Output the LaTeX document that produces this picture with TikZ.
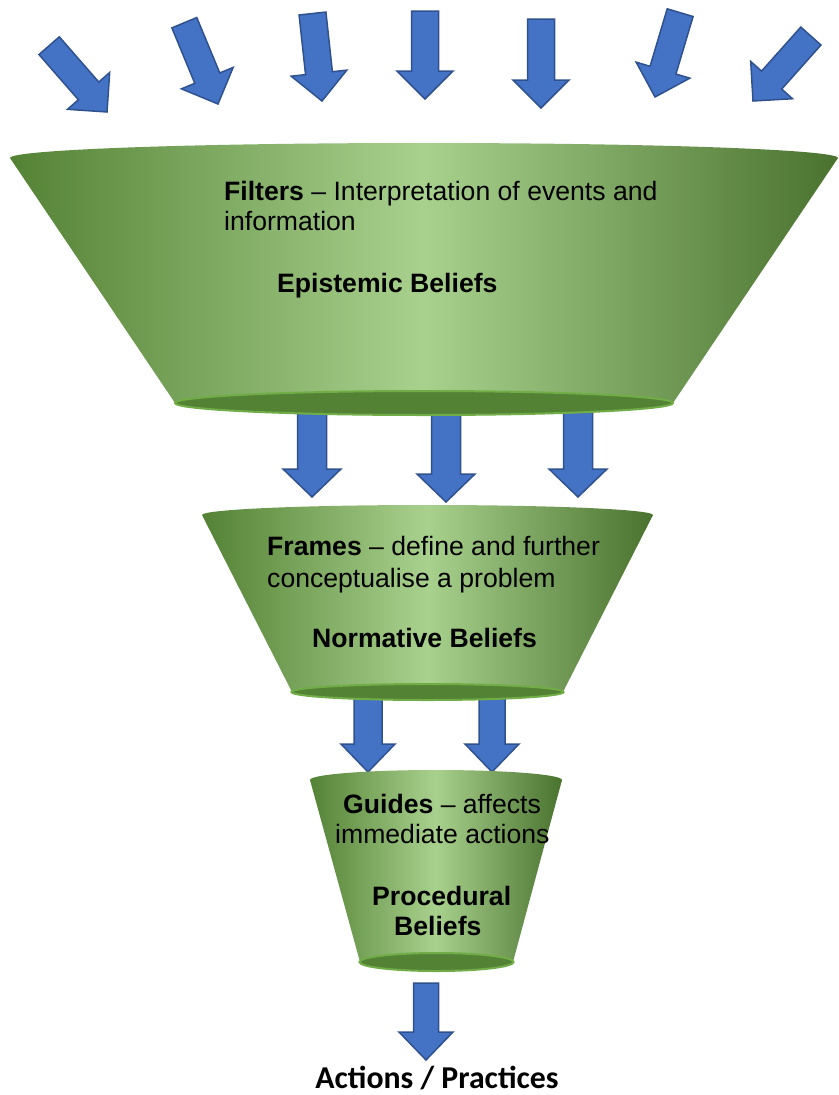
\documentclass[tikz,border=0pt]{standalone}
\usepackage{fontspec}
\setmainfont{Liberation Sans}
\newfontfamily\calib{Carlito}
\definecolor{arrowblue}{HTML}{4472C4}
\definecolor{arrowline}{HTML}{2F528F}
\definecolor{funneldark}{HTML}{548235}
\definecolor{funnellight}{HTML}{A9D18E}
\definecolor{rimline}{HTML}{70AD47}
\tikzset{
  flow/.style={fill=arrowblue, draw=arrowline, line width=1.5pt},
  rim/.style={fill=funneldark, draw=rimline, line width=2pt},
  body/.style={left color=funneldark, right color=funneldark!88!black, middle color=funnellight},
  txt/.style={anchor=base west, inner sep=0pt, font=\fontsize{26.6}{30}\selectfont},
}
% block arrow: tip x, tip y, turn, length, shaft half width, head half width
\newcommand{\flowarrow}[6]{%
  \draw[flow, shift={(#1,#2)}, rotate=#3]
    (-#5,-#4) -- (#5,-#4) -- (#5,-28) -- (#6,-28) -- (0,0) -- (-#6,-28) -- (-#5,-28) -- cycle;}
\begin{document}
\begin{tikzpicture}[x=1pt,y=-1pt]
\useasboundingbox (0,0) rectangle (838,1095);

\flowarrow{107}{112}{41.1}{88}{13.5}{28}
\flowarrow{218}{104}{22.5}{88}{13.5}{28}
\flowarrow{322}{101}{6.2}{88}{13.5}{28}
\flowarrow{425}{99}{0}{88}{13.5}{28}
\flowarrow{541}{108}{0}{89}{13.5}{28}
\flowarrow{655}{97}{-16.6}{88}{13.5}{28}
\flowarrow{753}{101}{-41.7}{87}{13.5}{28}

\flowarrow{312}{497}{0}{94}{14.5}{29}
\flowarrow{446}{502}{0}{99}{14.5}{29}
\flowarrow{578}{497}{0}{94}{14.5}{29}
\flowarrow{368}{772}{0}{80}{14}{27}
\flowarrow{492}{772}{0}{80}{13}{27}
\flowarrow{426}{1060}{0}{77}{12.5}{27}

\shade[body] (10,158) .. controls (10,149.7) and (195.3,143) .. (424,143)
  .. controls (652.7,143) and (838,149.7) .. (838,158) -- (673,403) -- (175,403) -- cycle;
\draw[rim] (424,403) ellipse [x radius=249, y radius=12];

\shade[body] (202,515) .. controls (202,509.5) and (303,505) .. (427.5,505)
  .. controls (552,505) and (653,509.5) .. (653,515) -- (563,692) -- (292,692) -- cycle;
\draw[rim] (427.5,692) ellipse [x radius=136, y radius=8];

\shade[body] (310,780) .. controls (310,774.5) and (366.4,770) .. (436,770)
  .. controls (505.6,770) and (562,774.5) .. (562,780) -- (513,962) -- (360,962) -- cycle;
\draw[rim] (436.5,962) ellipse [x radius=77, y radius=9];

\node[txt] (filt1) at (224,200) {\textbf{Filters} – Interpretation of events and};
\node[txt] (filt2) at (224,230) {information};
\node[txt] (epist) at (277,292) {\textbf{Epistemic Beliefs}};
\node[txt] (frame1) at (267,555) {\textbf{Frames} – define and further};
\node[txt] (frame2) at (267,587) {conceptualise a problem};
\node[txt] (norm) at (312,647) {\textbf{Normative Beliefs}};
\node[txt] (guide1) at (343,813) {\textbf{Guides} – affects};
\node[txt] (guide2) at (335,843) {immediate actions};
\node[txt] (proc1) at (372,905) {\textbf{Procedural}};
\node[txt] (proc2) at (394,935) {\textbf{Beliefs}};
\node[anchor=base, inner sep=0pt, font=\calib\bfseries\fontsize{31.8}{34}\selectfont] (acts) at (437,1088) {Actions / Practices};
\end{tikzpicture}
\end{document}
